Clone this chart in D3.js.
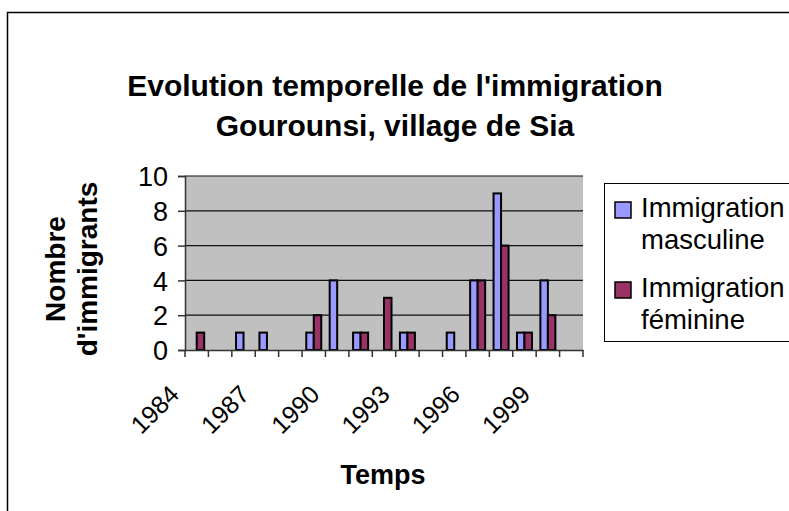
<html>
<head>
<meta charset="utf-8">
<title>Evolution temporelle de l'immigration</title>
<script src="https://d3js.org/d3.v7.min.js"></script>
<style>
  body { margin: 0; background: #fff; }
  text { font-family: "Liberation Sans", Arial, sans-serif; fill: #000; }
</style>
</head>
<body>
<svg id="chart"></svg>
<script>
const years = [1984, 1985, 1986, 1987, 1988, 1989, 1990, 1991, 1992, 1993, 1994, 1995, 1996, 1997, 1998, 1999, 2000];
const masculine = [0, 0, 1, 1, 0, 1, 4, 1, 0, 1, 0, 1, 4, 9, 1, 4, 0];
const feminine = [1, 0, 0, 0, 0, 2, 0, 1, 3, 1, 0, 0, 4, 6, 1, 2, 0];
const seriesNames = ["Immigration masculine", "Immigration féminine"];
const seriesColors = ["#9999FF", "#993366"];
const yTicks = [0, 2, 4, 6, 8, 10];
const labelYears = [1984, 1987, 1990, 1993, 1996, 1999];

const width = 789, height = 511;
const plot = {left: 185, right: 583, top: 176, bottom: 350};

const svg = d3.select("#chart").attr("width", width).attr("height", height);

// outer frame
svg.append("rect")
    .attr("x", 7.5).attr("y", 12.5)
    .attr("width", 900).attr("height", 700)
    .attr("fill", "#fff").attr("stroke", "#000").attr("stroke-width", 1.5);

// title
const title = svg.append("text")
    .attr("text-anchor", "middle")
    .style("font-size", "30px").style("font-weight", "bold");
title.append("tspan").attr("x", 395).attr("y", 96).text("Evolution temporelle de l'immigration");
title.append("tspan").attr("x", 395).attr("y", 136).text("Gourounsi, village de Sia");

const x = d3.scaleBand().domain(years).range([plot.left, plot.right]).padding(0);
const xSub = d3.scaleBand().domain([0, 1]).range([0, x.bandwidth()]).paddingOuter(0.56).paddingInner(0);
const y = d3.scaleLinear().domain([0, 10]).range([plot.bottom, plot.top]);

// plot background
svg.append("rect")
    .attr("x", plot.left).attr("y", plot.top)
    .attr("width", plot.right - plot.left).attr("height", plot.bottom - plot.top)
    .attr("fill", "#C0C0C0");

// gridlines
svg.append("g")
    .selectAll("line")
    .data(yTicks.filter(d => d > 0))
    .join("line")
    .attr("x1", plot.left).attr("x2", plot.right)
    .attr("y1", d => y(d)).attr("y2", d => y(d))
    .attr("stroke", "#111").attr("stroke-width", 1.2);

// bars
const rows = years.map((yr, i) => [
    {year: yr, s: 0, v: masculine[i]},
    {year: yr, s: 1, v: feminine[i]}
]).flat().filter(d => d.v > 0);

svg.append("g")
    .selectAll("rect")
    .data(rows)
    .join("rect")
    .attr("x", d => x(d.year) + xSub(d.s))
    .attr("y", d => y(d.v))
    .attr("width", xSub.bandwidth())
    .attr("height", d => y(0) - y(d.v))
    .attr("fill", d => seriesColors[d.s])
    .attr("stroke", "#000").attr("stroke-width", 2);

// y axis
const yAxis = svg.append("g")
    .attr("transform", `translate(${plot.left},0)`)
    .call(d3.axisLeft(y).tickValues(yTicks).tickSize(7).tickPadding(10));
yAxis.select(".domain").attr("stroke", "#333").attr("stroke-width", 1.5);
yAxis.selectAll(".tick line").attr("stroke", "#333").attr("stroke-width", 1.5);
yAxis.selectAll(".tick text").style("font-size", "27px").attr("dy", "0.36em");

// x axis
const xAxis = svg.append("g")
    .attr("transform", `translate(0,${plot.bottom})`)
    .call(d3.axisBottom(x).tickSize(0).tickFormat(""));
xAxis.select(".domain").attr("stroke", "#333").attr("stroke-width", 1.5);
xAxis.selectAll(".tick").remove();

// category boundary ticks
svg.append("g")
    .selectAll("line")
    .data(years.concat([null]))
    .join("line")
    .attr("x1", (d, i) => plot.left + i * x.step())
    .attr("x2", (d, i) => plot.left + i * x.step())
    .attr("y1", plot.bottom).attr("y2", plot.bottom + 7)
    .attr("stroke", "#333").attr("stroke-width", 1.5);

// rotated year labels
svg.append("g")
    .selectAll("text")
    .data(labelYears)
    .join("text")
    .attr("text-anchor", "end")
    .attr("transform", d => `translate(${x(d) + x.bandwidth() / 2 - 16},${plot.bottom + 46}) rotate(-45)`)
    .style("font-size", "25px")
    .text(d => d);

// axis titles
svg.append("text")
    .attr("x", 383).attr("y", 484)
    .attr("text-anchor", "middle")
    .style("font-size", "27px").style("font-weight", "bold")
    .text("Temps");

const yTitle = svg.append("text")
    .attr("transform", "translate(0,269) rotate(-90)")
    .attr("text-anchor", "middle")
    .style("font-size", "28px").style("font-weight", "bold");
yTitle.append("tspan").attr("x", 0).attr("y", 65).text("Nombre");
yTitle.append("tspan").attr("x", 0).attr("y", 97).text("d'immigrants");

// legend
const legend = svg.append("g");
legend.append("rect")
    .attr("x", 604.5).attr("y", 183.5)
    .attr("width", 250).attr("height", 158)
    .attr("fill", "#fff").attr("stroke", "#000").attr("stroke-width", 1);

const legendLines = [["Immigration", "masculine"], ["Immigration", "féminine"]];
const entry = legend.selectAll("g.entry")
    .data(seriesNames)
    .join("g")
    .attr("class", "entry")
    .attr("transform", (d, i) => `translate(0,${i * 80})`);
entry.append("rect")
    .attr("x", 615).attr("y", 202)
    .attr("width", 16).attr("height", 16)
    .attr("fill", (d, i) => seriesColors[i])
    .attr("stroke", "#000").attr("stroke-width", 1.5);
entry.append("text")
    .style("font-size", "27.5px")
    .each(function(d, i) {
        const t = d3.select(this);
        t.append("tspan").attr("x", 641).attr("y", 217).text(legendLines[i][0]);
        t.append("tspan").attr("x", 641).attr("y", 249).text(legendLines[i][1]);
    });
</script>
</body>
</html>
